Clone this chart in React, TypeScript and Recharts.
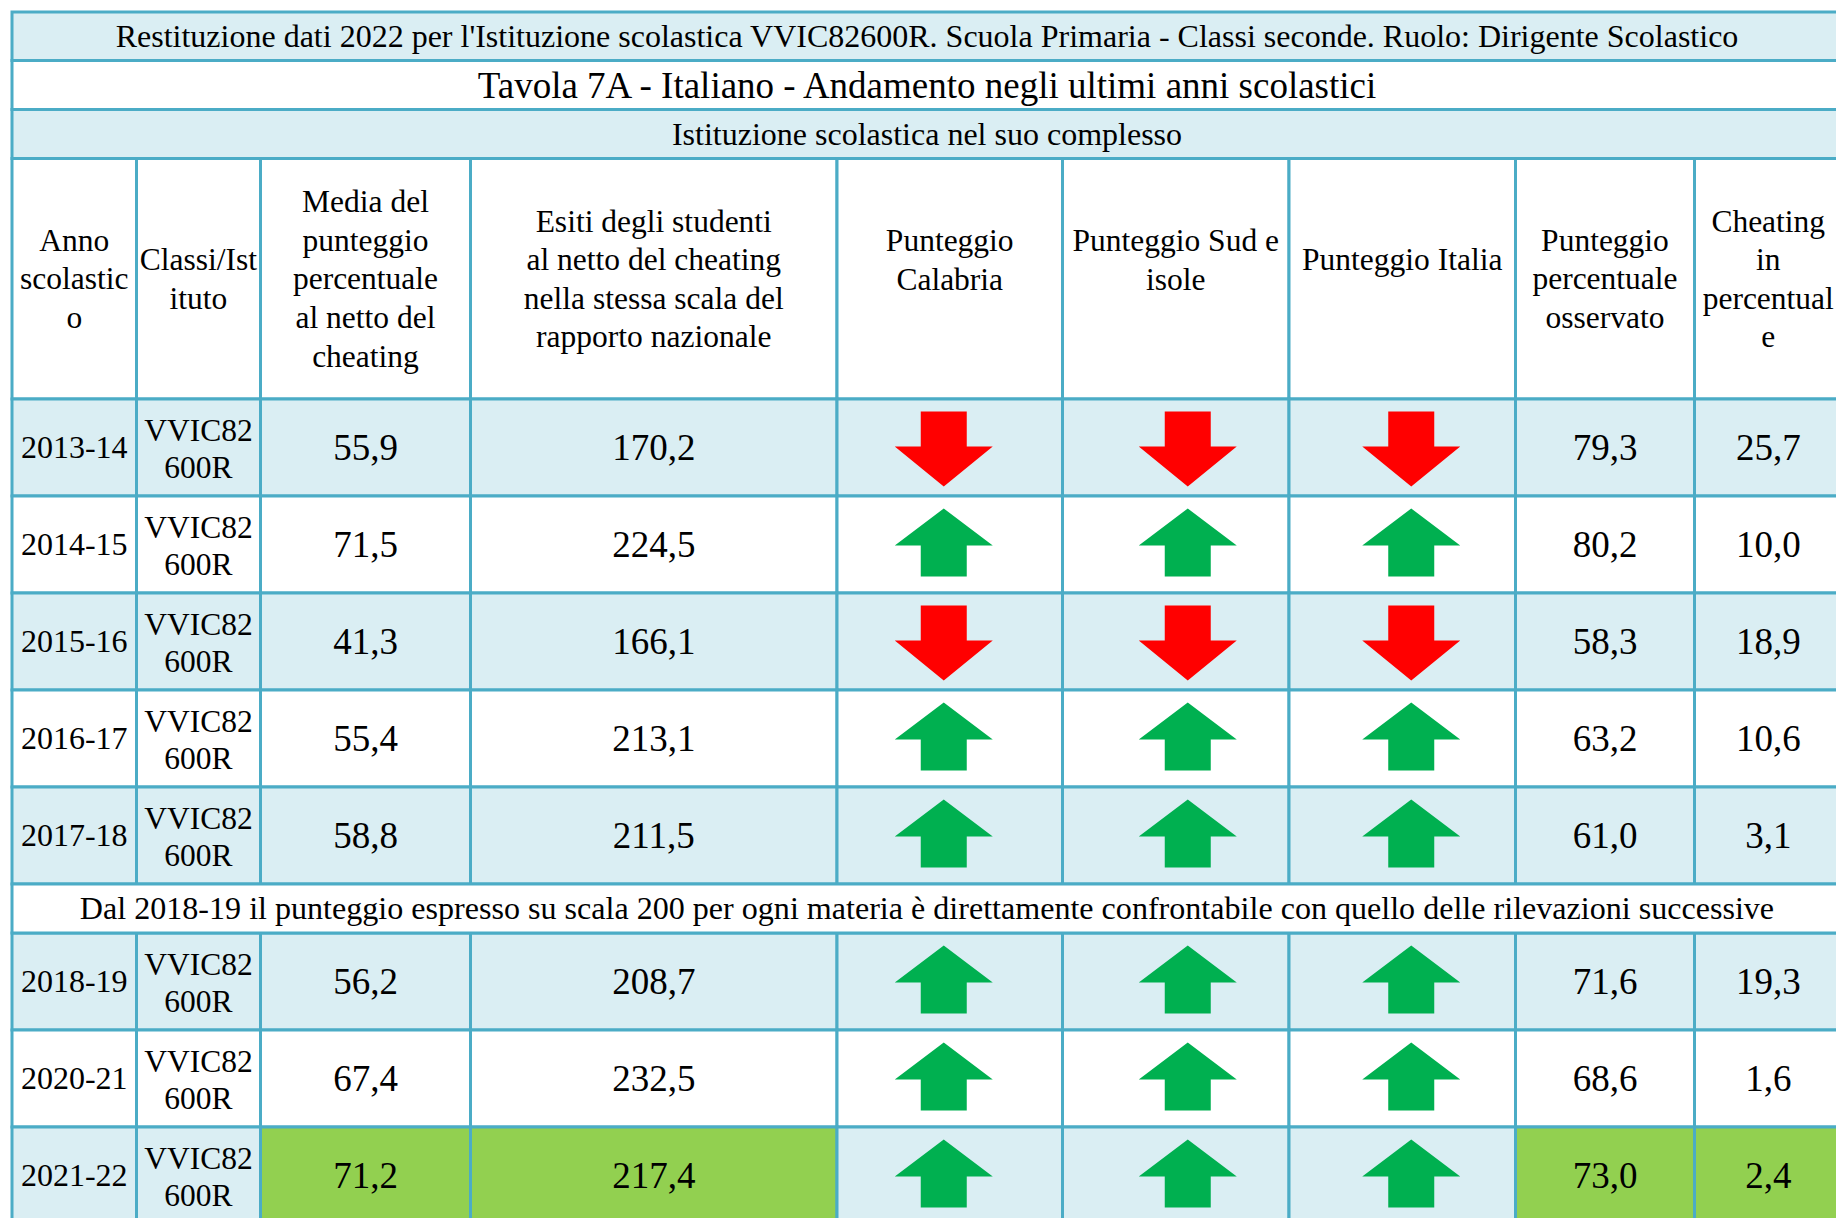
import { ComposedChart, XAxis, YAxis, ReferenceArea, Scatter } from "recharts";

document.body.style.margin = "0";

// table data
const titleLines = [
  "Restituzione dati 2022 per l'Istituzione scolastica VVIC82600R. Scuola Primaria - Classi seconde. Ruolo: Dirigente Scolastico",
  "Tavola 7A - Italiano - Andamento negli ultimi anni scolastici",
  "Istituzione scolastica nel suo complesso",
];
const headers = [
  ["Anno", "scolastic", "o"],
  ["Classi/Ist", "ituto"],
  ["Media del", "punteggio", "percentuale", "al netto del", "cheating"],
  ["Esiti degli studenti", "al netto del cheating", "nella stessa scala del", "rapporto nazionale"],
  ["Punteggio", "Calabria"],
  ["Punteggio Sud e", "isole"],
  ["Punteggio Italia"],
  ["Punteggio", "percentuale", "osservato"],
  ["Cheating", "in", "percentual", "e"],
];
const years = ["2013-14", "2014-15", "2015-16", "2016-17", "2017-18", "2018-19", "2020-21", "2021-22"];
const schoolCode = ["VVIC82", "600R"];
const media = [55.9, 71.5, 41.3, 55.4, 58.8, 56.2, 67.4, 71.2];
const esiti = [170.2, 224.5, 166.1, 213.1, 211.5, 208.7, 232.5, 217.4];
const calabria = ["down", "up", "down", "up", "up", "up", "up", "up"];
const sudIsole = ["down", "up", "down", "up", "up", "up", "up", "up"];
const italia = ["down", "up", "down", "up", "up", "up", "up", "up"];
const osservato = [79.3, 80.2, 58.3, 63.2, 61.0, 71.6, 68.6, 73.0];
const cheating = [25.7, 10.0, 18.9, 10.6, 3.1, 19.3, 1.6, 2.4];
const noteText =
  "Dal 2018-19 il punteggio espresso su scala 200 per ogni materia è direttamente confrontabile con quello delle rilevazioni successive";
const noteBefore = 5; // note row sits before this data row
const highlightCols = [2, 3, 7, 8]; // green cells in last row

// layout
const W = 1836;
const H = 1218;
const colEdges = [12, 136.5, 260.5, 470.5, 837, 1062.5, 1289, 1515.5, 1694.5, 1842];
const titleEdges = [12, 60.5, 109.5, 158.5];
const headerBottom = 399;
const rowH = 97;
const noteH = 49;
const arrowShift = [0, 0, 0, 0, -6, 12, 9, 0, 0];

const BLUE = "#DAEEF3";
const BORDER = "#4BACC6";
const GREEN = "#92D050";
const FONT = "'Liberation Serif', 'Times New Roman', serif";

const fmt = (v: number) => v.toFixed(1).replace(".", ",");

// row tops for the data rows and the note row
const rowTops: number[] = [];
let noteTop = 0;
{
  let y = headerBottom;
  years.forEach((_, i) => {
    if (i === noteBefore) {
      noteTop = y;
      y += noteH;
    }
    rowTops.push(y);
    y += rowH;
  });
}

const colMid = (c: number) => (colEdges[c] + colEdges[c + 1]) / 2;
const tableMid = (colEdges[0] + colEdges[colEdges.length - 1]) / 2;
// banding restarts after the note row
const isBlue = (r: number) => (r < noteBefore ? r : r - noteBefore) % 2 === 0;

type Cell = { x1: number; x2: number; y1: number; y2: number; fill: string };
const cells: Cell[] = [];
titleLines.forEach((_, i) => {
  cells.push({
    x1: colEdges[0],
    x2: colEdges[colEdges.length - 1],
    y1: titleEdges[i],
    y2: titleEdges[i + 1],
    fill: i === 1 ? "#FFFFFF" : BLUE,
  });
});
headers.forEach((_, c) => {
  cells.push({ x1: colEdges[c], x2: colEdges[c + 1], y1: titleEdges[3], y2: headerBottom, fill: "#FFFFFF" });
});
years.forEach((_, r) => {
  headers.forEach((__, c) => {
    const last = r === years.length - 1;
    cells.push({
      x1: colEdges[c],
      x2: colEdges[c + 1],
      y1: rowTops[r],
      y2: rowTops[r] + rowH,
      fill: last && highlightCols.includes(c) ? GREEN : isBlue(r) ? BLUE : "#FFFFFF",
    });
  });
});
cells.push({
  x1: colEdges[0],
  x2: colEdges[colEdges.length - 1],
  y1: noteTop,
  y2: noteTop + noteH,
  fill: "#FFFFFF",
});

type TextCell = { x: number; y: number; lines: string[]; size: number; gap: number; dy?: number };
const texts: TextCell[] = [];
const titleSizes = [32, 37, 32];
titleLines.forEach((t, i) => {
  texts.push({ x: tableMid, y: (titleEdges[i] + titleEdges[i + 1]) / 2, lines: [t], size: titleSizes[i], gap: 0 });
});
headers.forEach((lines, c) => {
  texts.push({
    x: colMid(c),
    y: (titleEdges[3] + headerBottom) / 2,
    lines,
    size: 31.5,
    gap: 38.6,
    dy: c >= 4 && c <= 6 ? -19 : 0,
  });
});
years.forEach((yr, r) => {
  const cy = rowTops[r] + rowH / 2;
  texts.push({ x: colMid(0), y: cy, lines: [yr], size: 32, gap: 0 });
  texts.push({ x: colMid(1), y: cy, lines: schoolCode, size: 31.5, gap: 37.5, dy: 1.5 });
  texts.push({ x: colMid(2), y: cy, lines: [fmt(media[r])], size: 37, gap: 0 });
  texts.push({ x: colMid(3), y: cy, lines: [fmt(esiti[r])], size: 37, gap: 0 });
  texts.push({ x: colMid(7), y: cy, lines: [fmt(osservato[r])], size: 37, gap: 0 });
  texts.push({ x: colMid(8), y: cy, lines: [fmt(cheating[r])], size: 37, gap: 0 });
});
texts.push({ x: tableMid, y: noteTop + noteH / 2, lines: [noteText], size: 32.1, gap: 0 });

type ArrowCell = { x: number; y: number; dir: string };
const arrows: ArrowCell[] = [];
[calabria, sudIsole, italia].forEach((series, k) => {
  const c = 4 + k;
  series.forEach((dir, r) => {
    arrows.push({ x: colMid(c) + arrowShift[c], y: rowTops[r] + rowH / 2, dir });
  });
});

const TextShape = (props: any) => {
  const { cx, cy, payload } = props;
  const p = payload as TextCell;
  const n = p.lines.length;
  return (
    <g>
      {p.lines.map((t, i) => (
        <text
          key={i}
          x={cx}
          y={cy + (p.dy || 0) + (i - (n - 1) / 2) * p.gap + p.size * 0.34}
          textAnchor="middle"
          fontFamily={FONT}
          fontSize={p.size}
          fill="#000000"
        >
          {t}
        </text>
      ))}
    </g>
  );
};

const ArrowShape = (props: any) => {
  const { cx, cy, payload } = props;
  const shaft = 23;
  const head = 49;
  if (payload.dir === "down") {
    const top = cy - 36;
    const base = cy - 1;
    const tip = cy + 39;
    const pts = [
      [cx - shaft, top],
      [cx + shaft, top],
      [cx + shaft, base],
      [cx + head, base],
      [cx, tip],
      [cx - head, base],
      [cx - shaft, base],
    ];
    return <polygon points={pts.map((q) => q.join(",")).join(" ")} fill="#FF0000" />;
  }
  const tip = cy - 36;
  const base = cy + 1;
  const bottom = cy + 32;
  const pts = [
    [cx, tip],
    [cx + head, base],
    [cx + shaft, base],
    [cx + shaft, bottom],
    [cx - shaft, bottom],
    [cx - shaft, base],
    [cx - head, base],
  ];
  return <polygon points={pts.map((q) => q.join(",")).join(" ")} fill="#00B050" />;
};

export default function App() {
  return (
    <div style={{ width: W, height: H, overflow: "hidden", background: "#FFFFFF" }}>
      <ComposedChart width={W} height={H} margin={{ top: 0, right: 0, bottom: 0, left: 0 }}>
        <XAxis type="number" dataKey="x" domain={[0, W]} hide />
        <YAxis type="number" dataKey="y" domain={[0, H]} reversed hide />
        {cells.map((c, i) => (
          <ReferenceArea
            key={i}
            x1={c.x1}
            x2={c.x2}
            y1={c.y1}
            y2={c.y2}
            fill={c.fill}
            fillOpacity={1}
            stroke={BORDER}
            strokeWidth={3}
            ifOverflow="visible"
          />
        ))}
        <Scatter data={arrows} shape={ArrowShape} isAnimationActive={false} />
        <Scatter data={texts} shape={TextShape} isAnimationActive={false} />
      </ComposedChart>
    </div>
  );
}
